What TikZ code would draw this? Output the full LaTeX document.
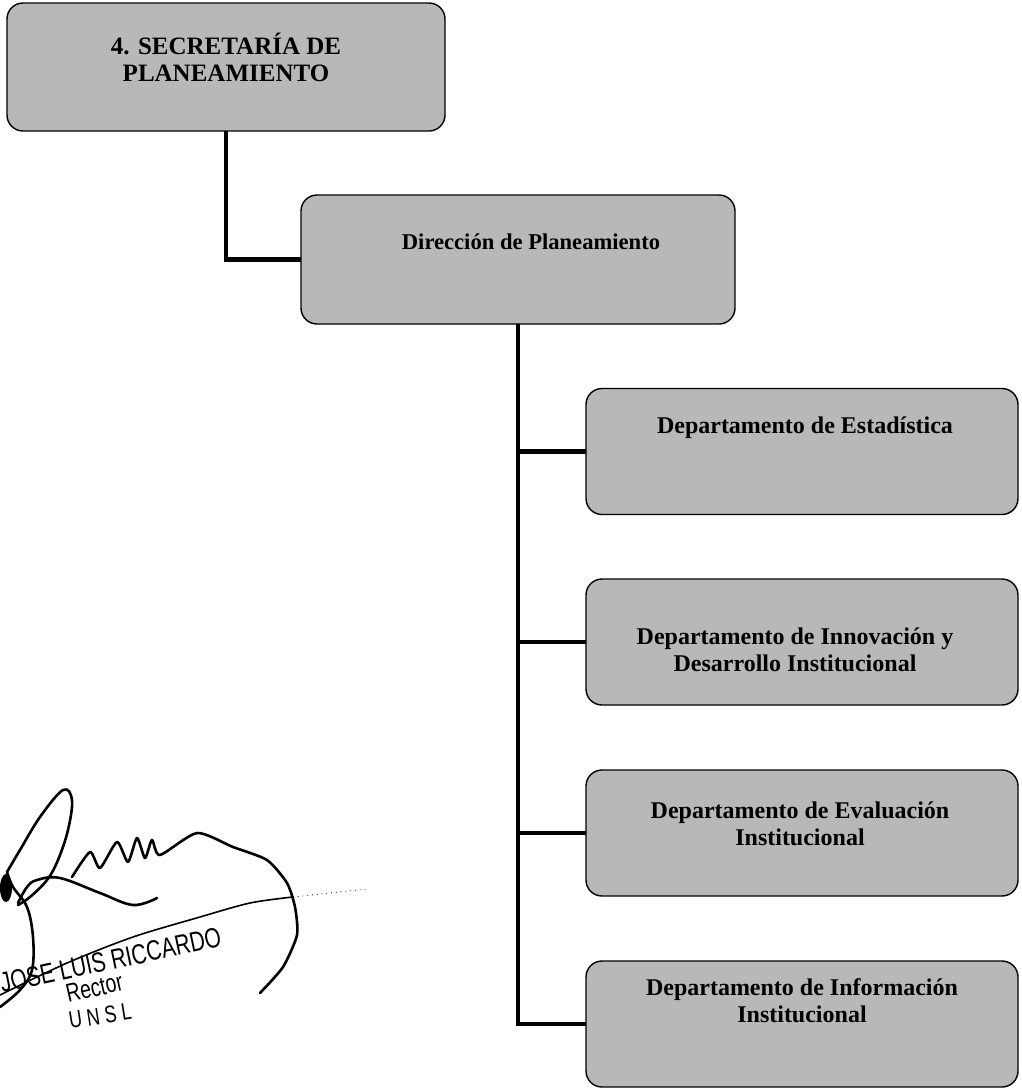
\documentclass[tikz,border=0pt]{standalone}
\usepackage{fontspec}
\setmainfont{Liberation Serif}
\newfontfamily\stampfont[FakeStretch=0.75]{Liberation Sans}
\usetikzlibrary{positioning}
\definecolor{boxgray}{gray}{0.72}

\tikzset{
  orgbox/.style={draw=black, line width=0.7pt, fill=boxgray, rounded corners=8pt,
    inner sep=0pt, outer sep=0pt, minimum width=216pt, minimum height=63pt},
  lbl/.style={font=\bfseries\fontsize{12}{13.5}\selectfont, align=center, inner sep=0pt},
  conn/.style={line width=2.2pt},
  ink/.style={line width=1.3pt, line cap=round, line join=round},
  stamp/.style={font=\stampfont\fontsize{13}{14}\selectfont, inner sep=0pt}
}

\begin{document}
\begin{tikzpicture}[x=0.5pt,y=-0.5pt]
\useasboundingbox (0,0) rectangle (1022,1088);
% boxes
\node[orgbox, minimum width=219pt, minimum height=64pt] (sec) at (226,67) {};
\node[lbl, font=\bfseries\fontsize{12.5}{13.5}\selectfont] (secL) at (226,57) {4. SECRETARÍA DE\\PLANEAMIENTO};
\node[orgbox, minimum width=217pt, minimum height=64.5pt] (dir) at (518,259.5) {};
\node[lbl, font=\bfseries\fontsize{11.3}{13.5}\selectfont] (dirL) at (531,242) {Dirección de Planeamiento};
\node[orgbox] (est) at (802,451.5) {};
\node[lbl] (estL) at (805,428) {Departamento de Estadística};
\node[orgbox] (inn) at (802,642) {};
\node[lbl] (innL) at (795,650) {Departamento de Innovación y\\Desarrollo Institucional};
\node[orgbox] (eva) at (802,833) {};
\node[lbl] (evaL) at (800,824) {Departamento de Evaluación\\Institucional};
\node[orgbox] (inf) at (802,1024) {};
\node[lbl] (infL) at (802,1001) {Departamento de Información\\Institucional};
% connectors
\draw[conn] (sec.south) |- (dir.west);
\foreach \d in {est,inn,eva,inf}
  \draw[conn] (dir.south) |- (\d.west);
% signature
\draw[ink] plot[smooth, tension=0.6] coordinates {(7,872) (20,850) (40,817) (63,790) (72,800) (68,830) (58,860) (47,880) (30,897) (18,905)};
\draw[ink] plot[smooth, tension=0.6] coordinates {(18,903) (27,887) (37,880) (60,878) (100,893) (133,905) (157,898)};
\draw[ink] plot[smooth, tension=0.4] coordinates {(72,877) (90,852) (100,868) (117,842) (128,862) (137,838) (145,858) (152,840) (160,855) (197,833) (233,847) (267,860) (287,883) (295,907) (297,935) (283,967) (260,993)};
\draw[ink] plot[smooth, tension=0.6] coordinates {(7,872) (13,887) (27,907) (33,937) (32,970) (20,990) (0,1007)};
\fill (6,888) ellipse [x radius=6, y radius=14];
\draw[line width=0.8pt, line cap=round] plot[smooth] coordinates {(0,995) (67,963) (133,937) (200,917) (250,903) (293,897)};
\draw[line width=0.4pt, dotted] (293,897) -- (367,889);
% stamp
\node[stamp, font=\stampfont\fontsize{14}{15}\selectfont, anchor=base west, rotate=12] (name) at (2,993) {JOSE LUIS RICCARDO};
\node[stamp, anchor=base west, rotate=13] (rector) at (68,1003) {Rector};
\node[stamp, font=\stampfont\fontsize{12}{13}\selectfont, anchor=base west, rotate=9] (unsl) at (70,1029) {U N S L};
\end{tikzpicture}
\end{document}
